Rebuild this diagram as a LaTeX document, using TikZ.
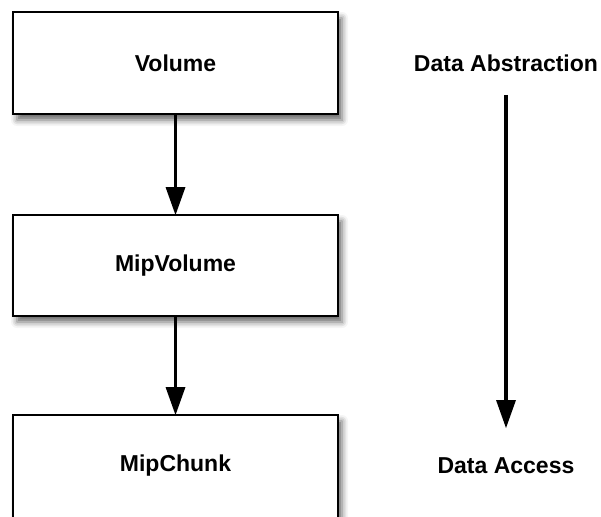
\documentclass[tikz,border=0pt]{standalone}
\usepackage{fontspec}
\setmainfont{Liberation Sans}
\usetikzlibrary{arrows.meta,shadows.blur}
\begin{document}
\begin{tikzpicture}[x=1pt,y=-1pt,
  layerbox/.style={draw=black,line width=2pt,fill=white,
    blur shadow={shadow xshift=4pt,shadow yshift=-6pt,shadow blur radius=6pt,shadow opacity=60}},
  label/.style={font=\fontsize{23}{26}\selectfont\bfseries},
  tip/.style={-{Triangle[length=28pt,width=20pt,fill=black,line width=0pt]}},
  flow/.style={tip,line width=3.5pt},
  side/.style={tip,line width=3.5pt}]
  \useasboundingbox (0,0) rectangle (601,516);
  \clip (0,0) rectangle (601,516);
  % stacked layers
  \draw[layerbox] (13,12) rectangle (338,114);
  \draw[layerbox] (13,215) rectangle (338,316);
  \draw[layerbox] (13,415) rectangle (338,540);
  \node[label] (vol) at (175.5,63) {Volume};
  \node[label] (mipvol) at (175.5,266) {MipVolume};
  \node[label] (mipchunk) at (175.5,466) {MipChunk};
  \coordinate (b1) at (175.5,114);
  \coordinate (t2) at (175.5,215);
  \coordinate (b2) at (175.5,316);
  \coordinate (t3) at (175.5,415);
  \draw[flow] (b1) -- (t2);
  \draw[flow] (b2) -- (t3);
  % side axis
  \node[label] (abs) at (506,63) {Data Abstraction};
  \node[label] (acc) at (506,466) {Data Access};
  \coordinate (s1) at (506,95);
  \coordinate (s2) at (506,428);
  \draw[side] (s1) -- (s2);
\end{tikzpicture}
\end{document}
